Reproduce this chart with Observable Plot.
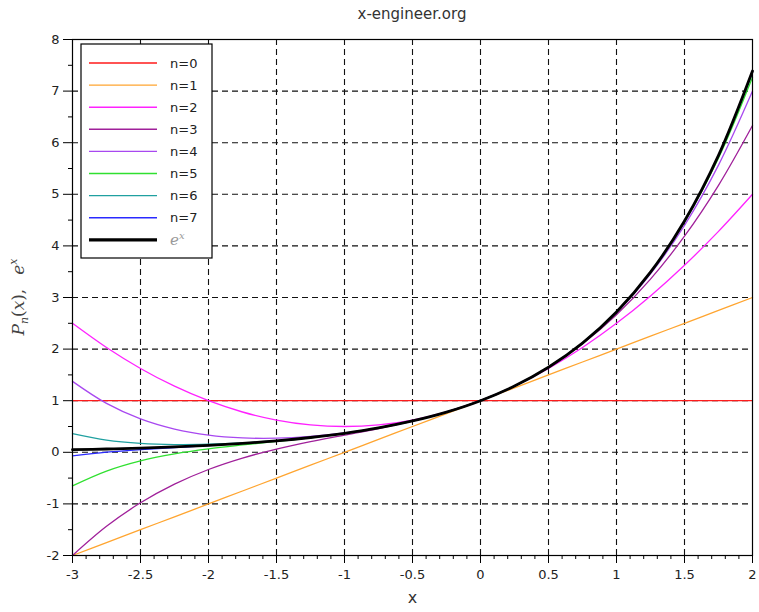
<!DOCTYPE html>
<html>
<head>
<meta charset="utf-8">
<script src="https://cdn.jsdelivr.net/npm/d3@7"></script>
<script src="https://cdn.jsdelivr.net/npm/@observablehq/plot@0.6"></script>
<style>
  html, body { margin: 0; padding: 0; background: white; }
  #title { height: 28px; line-height: 28px; padding-left: 72px; padding-right: 7px; text-align: center;
    font-family: "DejaVu Sans", sans-serif; font-size: 15px; color: #333; }
  #chart svg { display: block; }
</style>
</head>
<body>
<div id="title">x-engineer.org</div>
<div id="chart"></div>
<script>
// ---- data ----
const xs = [-3, -2.75, -2.5, -2.25, -2, -1.75, -1.5, -1.25, -1, -0.75, -0.5, -0.25, 0, 0.25, 0.5, 0.75, 1, 1.25, 1.5, 1.75, 2];
const p0 = [1, 1, 1, 1, 1, 1, 1, 1, 1, 1, 1, 1, 1, 1, 1, 1, 1, 1, 1, 1, 1];
const p1 = [-2, -1.75, -1.5, -1.25, -1, -0.75, -0.5, -0.25, 0, 0.25, 0.5, 0.75, 1, 1.25, 1.5, 1.75, 2, 2.25, 2.5, 2.75, 3];
const p2 = [2.5, 2.031, 1.625, 1.281, 1, 0.781, 0.625, 0.531, 0.5, 0.531, 0.625, 0.781, 1, 1.281, 1.625, 2.031, 2.5, 3.031, 3.625, 4.281, 5];
const p3 = [-2, -1.435, -0.979, -0.617, -0.333, -0.112, 0.063, 0.206, 0.333, 0.461, 0.604, 0.779, 1, 1.284, 1.646, 2.102, 2.667, 3.357, 4.188, 5.174, 6.333];
const p4 = [1.375, 0.948, 0.648, 0.451, 0.333, 0.279, 0.273, 0.307, 0.375, 0.474, 0.607, 0.779, 1, 1.284, 1.648, 2.115, 2.708, 3.458, 4.398, 5.565, 7];
const p5 = [-0.65, -0.363, -0.165, -0.030, 0.067, 0.142, 0.210, 0.282, 0.367, 0.472, 0.607, 0.779, 1, 1.284, 1.649, 2.117, 2.717, 3.484, 4.462, 5.702, 7.267];
const p6 = [0.363, 0.238, 0.174, 0.150, 0.156, 0.182, 0.226, 0.287, 0.368, 0.472, 0.607, 0.779, 1, 1.284, 1.649, 2.117, 2.718, 3.489, 4.478, 5.742, 7.356];
const p7 = [-0.071, 0.002, 0.053, 0.092, 0.130, 0.172, 0.223, 0.286, 0.368, 0.472, 0.607, 0.779, 1, 1.284, 1.649, 2.117, 2.718, 3.490, 4.481, 5.752, 7.381];
const ex = [0.050, 0.064, 0.082, 0.105, 0.135, 0.174, 0.223, 0.287, 0.368, 0.472, 0.607, 0.779, 1, 1.284, 1.649, 2.117, 2.718, 3.490, 4.482, 5.755, 7.389];

const seriesNames = ["n=0", "n=1", "n=2", "n=3", "n=4", "n=5", "n=6", "n=7", "e^x"];
const seriesValues = [p0, p1, p2, p3, p4, p5, p6, p7, ex];
const seriesColors = ["#ff1a1a", "#ffa530", "#ff22ff", "#a0209a", "#a848f0", "#30e030", "#20a0a0", "#2a2aff", "#000000"];
const seriesWidths = [1.3, 1.3, 1.3, 1.3, 1.3, 1.3, 1.3, 1.3, 2.8];

const xMajor = [-3, -2.5, -2, -1.5, -1, -0.5, 0, 0.5, 1, 1.5, 2];
const xMinor = d3.range(-30, 21).filter(k => k % 5 !== 0).map(k => k / 10);
const yMajor = [-2, -1, 0, 1, 2, 3, 4, 5, 6, 7, 8];
const yMinor = [-1.5, -0.5, 0.5, 1.5, 2.5, 3.5, 4.5, 5.5, 6.5, 7.5];
const xGrid = [-2.5, -2, -1.5, -1, -0.5, 0, 0.5, 1, 1.5];
const yGrid = [-1, 0, 1, 2, 3, 4, 5, 6, 7];

const rows = seriesNames.map((name, i) => xs.map((x, j) => ({series: name, x, y: seriesValues[i][j]})));

const gridStyle = {stroke: "#111", strokeOpacity: 1, strokeWidth: 1.1, strokeDasharray: "6,4"};

const svg = Plot.plot({
  width: 759,
  height: 584,
  marginTop: 11,
  marginRight: 7,
  marginBottom: 57,
  marginLeft: 72,
  x: {domain: [-3, 2]},
  y: {domain: [-2, 8]},
  style: {fontFamily: "DejaVu Sans, sans-serif", fontSize: "13px", color: "#222", background: "white", overflow: "visible"},
  marks: [
    Plot.gridX({ticks: xGrid, ...gridStyle}),
    Plot.gridY({ticks: yGrid, ...gridStyle}),
    ...rows.map((r, i) => Plot.line(r, {x: "x", y: "y", stroke: seriesColors[i], strokeWidth: seriesWidths[i], curve: "catmull-rom"})),
    Plot.frame({stroke: "black", strokeWidth: 1.2}),
    Plot.axisX({ticks: xMajor, tickSize: 8, tickPadding: 6, tickFormat: d => String(d), label: null, stroke: "black"}),
    Plot.axisX({ticks: xMinor, tickSize: 4, text: null, label: null, stroke: "black"}),
    Plot.axisY({ticks: yMajor, tickSize: 9, tickPadding: 4, tickFormat: d => String(d), label: null, stroke: "black"}),
    Plot.axisY({ticks: yMinor, tickSize: 4, text: null, label: null, stroke: "black"}),
    Plot.text(["x"], {frameAnchor: "bottom", dy: 47, fontSize: 16, fill: "#333"})
  ]
});

document.getElementById("chart").appendChild(svg);

// ---- y axis label: P_n(x),  e^x ----
const s = d3.select(svg);
const yl = s.append("text")
  .attr("transform", "translate(24,269) rotate(-90)")
  .attr("text-anchor", "middle")
  .attr("font-family", "DejaVu Serif, serif")
  .attr("font-size", 17)
  .attr("fill", "#444");
yl.append("tspan").attr("font-style", "italic").text("P");
yl.append("tspan").attr("font-style", "italic").attr("font-size", 11).attr("dy", 4).text("n");
yl.append("tspan").attr("dy", -4).text("(");
yl.append("tspan").attr("font-style", "italic").text("x");
yl.append("tspan").text("),");
yl.append("tspan").attr("font-style", "italic").attr("dx", 14).text("e");
yl.append("tspan").attr("font-style", "italic").attr("font-size", 11).attr("dy", -7).text("x");

// ---- legend ----
const lg = s.append("g").attr("text-anchor", "start");
lg.append("rect").attr("x", 81).attr("y", 16).attr("width", 131).attr("height", 214)
  .attr("fill", "white").attr("stroke", "black").attr("stroke-width", 1.2);
seriesNames.forEach((name, i) => {
  const yy = 35 + i * 22.1;
  lg.append("line").attr("x1", 89).attr("x2", 157).attr("y1", yy).attr("y2", yy)
    .attr("stroke", seriesColors[i]).attr("stroke-width", i === 8 ? 3.2 : 1.4);
  if (i < 8) {
    lg.append("text").attr("x", 170).attr("y", yy).attr("dy", "0.35em").attr("text-anchor", "start")
      .attr("font-family", "DejaVu Sans, sans-serif").attr("font-size", 13).attr("fill", "#222").text(name);
  } else {
    const t = lg.append("text").attr("x", 170).attr("y", yy).attr("dy", "0.35em").attr("text-anchor", "start")
      .attr("font-family", "DejaVu Serif, serif").attr("font-style", "italic").attr("font-size", 15).attr("fill", "#999");
    t.append("tspan").text("e");
    t.append("tspan").attr("font-size", 10).attr("dy", -6).text("x");
  }
});
</script>
</body>
</html>
